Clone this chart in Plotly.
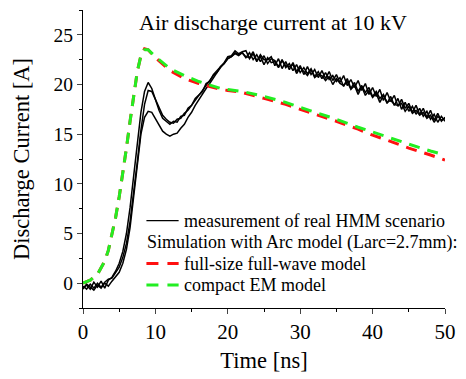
import plotly.graph_objects as go

# ---- data ----
# measurement traces, sampled every 0.5 ns starting at t = 0
meas_a = [-0.5, -0.2, -0.6, 0.1, -0.4, 0.2, -0.5, 0.3, 0.6, 1.2,
          2.0, 3.2, 5.0, 7.6, 10.8, 14.2, 17.2, 19.3, 20.2, 19.6,
          18.4, 17.4, 16.6, 16.3, 16.0, 16.3, 16.2, 16.8, 16.9, 17.6,
          17.9, 18.6, 19.0, 19.3, 20.1, 20.3, 21.0, 21.4, 21.9, 22.2,
          22.8, 22.9, 23.4, 23.1, 23.3,
          23.4, 22.6, 23.1, 22.3, 23.0, 22.5, 22.5, 22.8, 21.9, 22.6,
          21.6, 22.3, 21.5, 22.2, 21.3, 21.9, 21.0, 21.8, 21.0, 21.5,
          20.7, 21.4, 20.6, 21.3, 20.4, 21.0, 20.2, 20.9, 19.9, 20.5,
          19.7, 20.4, 19.4, 20.1, 19.0, 19.7, 18.8, 19.5, 18.4, 19.2,
          18.3, 18.9, 17.8, 18.5, 17.6, 18.1, 17.2, 17.9, 17.0, 17.6,
          16.7, 17.4, 16.4, 17.1, 16.3, 16.7]
meas_b = [-0.3, -0.6, -0.1, -0.5, 0.0, -0.4, 0.1, 0.4, 0.5, 1.0,
          1.6, 2.6, 4.0, 6.2, 9.0, 12.2, 15.4, 18.0, 19.4, 19.3,
          18.5, 17.6, 16.9, 16.5, 16.2, 16.1, 16.5, 16.6, 17.1, 17.4,
          17.9, 18.3, 18.9, 19.3, 19.9, 20.3, 20.9, 21.2, 21.8, 22.1,
          22.6, 22.8, 23.1, 22.9, 23.2,
          22.7, 23.2, 22.5, 23.0, 22.3, 22.9, 22.1, 22.6, 22.4, 21.8,
          22.5, 21.7, 22.1, 21.4, 22.0, 21.2, 21.7, 21.1, 21.6, 20.8,
          21.3, 20.6, 21.2, 20.5, 20.9, 20.3, 20.7, 19.8, 20.6, 19.6,
          20.2, 19.3, 19.9, 19.2, 19.7, 18.8, 19.3, 18.6, 19.0, 18.1,
          18.8, 17.9, 18.6, 17.5, 18.2, 17.3, 17.8, 17.0, 17.6, 16.8,
          17.3, 16.5, 17.0, 16.2, 16.8, 16.3]
meas_c = [-0.6, -0.1, -0.4, -0.7, -0.2, -0.5, 0.0, -0.3, 0.2, 0.6,
          1.1, 2.0, 3.4, 5.6, 8.6, 12.0, 15.0, 16.7, 17.3, 17.2,
          16.6, 15.9, 15.3, 15.0, 14.8, 15.0, 15.1, 15.6, 16.0, 16.7,
          17.2, 17.9, 18.5, 19.0, 19.6, 20.1, 20.7, 21.2, 21.7, 22.1,
          22.6, 22.8, 23.2, 23.0, 23.2,
          22.8, 22.7, 23.3, 22.4, 22.8, 22.0, 22.7, 22.2, 22.3, 21.7,
          22.4, 21.9, 21.8, 22.0, 21.1, 21.7, 21.3, 20.9, 21.5, 20.7,
          21.0, 20.9, 20.4, 20.8, 20.0, 20.6, 20.1, 19.9, 20.3, 19.5,
          19.9, 19.0, 19.8, 18.9, 19.4, 18.7, 19.1, 18.2, 18.9, 18.2,
          18.4, 18.0, 17.9, 18.1, 17.3, 17.8, 17.1, 17.4, 16.9, 17.2,
          16.6, 16.9, 16.2, 16.8, 16.4, 16.6]
t_step = 0.5

t_sim = [0, 1, 2, 3, 3.5, 4, 4.5, 5, 5.5, 6, 6.5, 7, 7.5, 8, 8.5, 9,
         10, 12, 14, 16, 18, 19, 20, 22, 25, 28, 30, 33, 35, 38, 40, 42, 45, 48, 50]
sim_full = [0, 0.3, 0.9, 2.2, 3.3, 4.8, 6.6, 8.7, 11.0, 13.6, 16.3, 19.0, 21.3, 22.9, 23.6, 23.5,
            22.7, 21.4, 20.6, 20.1, 19.7, 19.5, 19.4, 19.2, 18.6, 18.0, 17.5, 16.8, 16.3, 15.5, 14.9, 14.4, 13.6, 12.9, 12.4]
sim_compact = [0, 0.3, 0.9, 2.2, 3.3, 4.8, 6.6, 8.7, 11.0, 13.6, 16.3, 19.0, 21.3, 22.9, 23.5, 23.5,
               22.8, 21.6, 20.9, 20.3, 19.8, 19.6, 19.5, 19.3, 18.8, 18.2, 17.7, 17.0, 16.5, 15.7, 15.2, 14.7, 14.0, 13.3, 12.9]

x_ticks = [0, 10, 20, 30, 40, 50]
y_ticks = [0, 5, 10, 15, 20, 25]

legend_labels = ["measurement of real HMM scenario",
                 "Simulation with Arc model (Larc=2.7mm):",
                 "full-size full-wave model",
                 "compact EM model"]

FONT = "Liberation Serif"
RED = "#ff1010"
GREEN = "#22ee22"

# plot area in pixels (for placing the hand-built legend)
L, R, T, B = 83, 12, 10, 71
W, H = 466, 379
PW, PH = W - L - R, H - T - B


def px(x):
    return (x - L) / PW


def py(y):
    return (H - B - y) / PH


def times(vals):
    return [i * t_step for i in range(len(vals))]


fig = go.Figure()
for vals in (meas_a, meas_b, meas_c):
    fig.add_trace(go.Scatter(x=times(vals), y=vals, mode="lines",
                             line=dict(color="black", width=1.5), showlegend=False))
fig.add_trace(go.Scatter(x=t_sim, y=sim_full, mode="lines",
                         line=dict(color=RED, width=3, dash="11px,8px"), showlegend=False))
fig.add_trace(go.Scatter(x=t_sim, y=sim_compact, mode="lines",
                         line=dict(color=GREEN, width=3, dash="11px,8px"), showlegend=False))

# hand-built legend (rows 21.5 px apart)
rows_y = [220.7, 242.4, 263.5, 285.0]
shapes = [
    dict(type="line", xref="paper", yref="paper", x0=px(148), x1=px(181), y0=py(rows_y[0]), y1=py(rows_y[0]),
         line=dict(color="black", width=1.3)),
    dict(type="line", xref="paper", yref="paper", x0=px(148), x1=px(181), y0=py(rows_y[2]), y1=py(rows_y[2]),
         line=dict(color=RED, width=3, dash="12px,9px")),
    dict(type="line", xref="paper", yref="paper", x0=px(148), x1=px(181), y0=py(rows_y[3]), y1=py(rows_y[3]),
         line=dict(color=GREEN, width=3, dash="12px,9px")),
]
ann = [dict(text="Air discharge current at 10 kV", x=px(277.5), y=py(22), xref="paper", yref="paper",
            xanchor="center", yanchor="middle", showarrow=False,
            font=dict(family=FONT, size=22, color="black"))]
text_x = [185, 148, 185, 185]
for lab, yy, xx in zip(legend_labels, rows_y, text_x):
    ann.append(dict(text=lab, x=px(xx), y=py(yy), xref="paper", yref="paper",
                    xanchor="left", yanchor="middle", showarrow=False, xshift=-1,
                    font=dict(family=FONT, size=18, color="black")))

fig.update_layout(
    width=W, height=H,
    margin=dict(l=L, r=R, t=T, b=B),
    plot_bgcolor="white", paper_bgcolor="white",
    font=dict(family=FONT, size=20, color="black"),
    showlegend=False,
    shapes=shapes,
    annotations=ann,
)
fig.update_xaxes(range=[0, 50], tickvals=x_ticks, ticks="outside", ticklen=5, tickwidth=1.2,
                 tickfont=dict(family=FONT, size=21),
                 showline=True, linecolor="black", linewidth=1.3, showgrid=False, zeroline=False,
                 minor=dict(dtick=5, ticks="outside", ticklen=3, tickwidth=1, tickcolor="black"),
                 title=dict(text="Time [ns]", font=dict(family=FONT, size=22.5), standoff=8))
fig.update_yaxes(range=[-2.5, 27.5], tickvals=y_ticks, ticks="outside", ticklen=5, tickwidth=1.2,
                 tickfont=dict(family=FONT, size=19.5),
                 showline=True, linecolor="black", linewidth=1.3, showgrid=False, zeroline=False,
                 minor=dict(dtick=2.5, ticks="outside", ticklen=3, tickwidth=1, tickcolor="black"),
                 title=dict(text="Discharge Current [A]", font=dict(family=FONT, size=22.5), standoff=17))

fig.write_html("out.html")
